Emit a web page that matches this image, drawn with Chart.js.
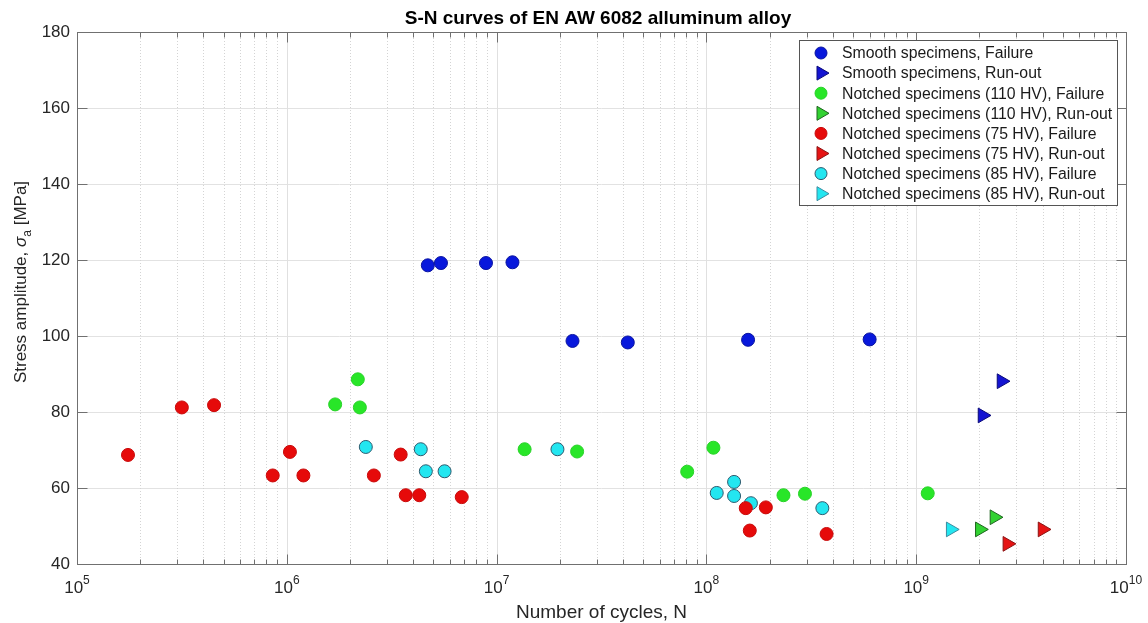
<!DOCTYPE html>
<html>
<head>
<meta charset="utf-8">
<script src="https://cdn.jsdelivr.net/npm/chart.js@4.4.1/dist/chart.umd.min.js"></script>
<style>
  html, body { margin: 0; padding: 0; background: #fff; }
  #wrap { width: 1148px; height: 623px; position: relative; }
</style>
</head>
<body>
<div id="wrap"><canvas id="snChart"></canvas></div>
<script>
// ---- data ----
const chartTitle = 'S-N curves of EN AW 6082 alluminum alloy';
const xAxisTitle = 'Number of cycles, N';
const yTickValues = [40, 60, 80, 100, 120, 140, 160, 180];
const xDecades = [5, 6, 7, 8, 9, 10];

const seriesLabels = [
  'Smooth specimens, Failure',
  'Smooth specimens, Run-out',
  'Notched specimens (110 HV), Failure',
  'Notched specimens (110 HV), Run-out',
  'Notched specimens (75 HV), Failure',
  'Notched specimens (75 HV), Run-out',
  'Notched specimens (85 HV), Failure',
  'Notched specimens (85 HV), Run-out'
];

// smooth specimens
const smoothFailN = [4.7e6, 5.43e6, 8.9e6, 1.19e7, 2.30e7, 4.22e7, 1.58e8, 6.0e8];
const smoothFailS = [118.6, 119.2, 119.2, 119.4, 98.7, 98.3, 99.0, 99.1];
const smoothRunN = [2.07e9, 2.55e9];
const smoothRunS = [79.1, 88.1];

// notched 110 HV
const n110FailN = [1.70e6, 2.18e6, 2.23e6, 1.36e7, 2.42e7, 8.1e7, 1.08e8, 2.33e8, 2.95e8, 1.135e9];
const n110FailS = [82.0, 88.6, 81.2, 70.2, 69.6, 64.3, 70.6, 58.1, 58.5, 58.6];
const n110RunN = [2.01e9, 2.36e9];
const n110RunS = [49.1, 52.3];

// notched 75 HV
const n75FailN = [1.75e5, 3.16e5, 4.5e5, 8.57e5, 1.035e6, 1.2e6, 2.6e6, 3.49e6, 3.69e6, 4.28e6, 6.82e6, 1.54e8, 1.61e8, 1.92e8, 3.74e8];
const n75FailS = [68.7, 81.2, 81.8, 63.3, 69.5, 63.3, 63.3, 68.8, 58.1, 58.1, 57.6, 54.7, 48.8, 54.9, 47.9];
const n75RunN = [2.72e9, 4.0e9];
const n75RunS = [45.3, 49.1];

// notched 85 HV
const n85FailN = [2.38e6, 4.35e6, 4.6e6, 5.65e6, 1.95e7, 1.12e8, 1.355e8, 1.355e8, 1.63e8, 3.57e8];
const n85FailS = [70.8, 70.2, 64.4, 64.4, 70.2, 58.7, 61.6, 57.9, 56.0, 54.7];
const n85RunN = [1.46e9];
const n85RunS = [49.1];

const FONT = "'Liberation Sans', Arial, Helvetica, sans-serif";
const TEXT = '#262626';

const pts = (xs, ys) => xs.map((v, i) => ({ x: v, y: ys[i] }));

// circle = failure, right triangle = run-out
function failSet(label, data, fill, edge) {
  return { label, data, pointStyle: 'circle', pointRadius: 6.5, pointHoverRadius: 6.5,
    backgroundColor: fill, borderColor: edge, pointBorderWidth: 1, showLine: false };
}
function runSet(label, data, fill, edge) {
  return { label, data, pointStyle: 'triangle', rotation: 90, pointRadius: 8.5, pointHoverRadius: 8.5,
    backgroundColor: fill, borderColor: edge, pointBorderWidth: 1, showLine: false };
}

const datasets = [
  failSet(seriesLabels[0], pts(smoothFailN, smoothFailS), '#0818dc', '#0a14a0'),
  runSet(seriesLabels[1], pts(smoothRunN, smoothRunS), '#1414d2', '#0a0a78'),
  failSet(seriesLabels[2], pts(n110FailN, n110FailS), '#28e628', '#28d228'),
  runSet(seriesLabels[3], pts(n110RunN, n110RunS), '#32d232', '#1e641e'),
  failSet(seriesLabels[4], pts(n75FailN, n75FailS), '#e60a0a', '#c80a0a'),
  runSet(seriesLabels[5], pts(n75RunN, n75RunS), '#e61414', '#8c1414'),
  failSet(seriesLabels[6], pts(n85FailN, n85FailS), '#23e6f0', '#2d5a6e'),
  runSet(seriesLabels[7], pts(n85RunN, n85RunS), '#23e6f0', '#3c8ca0')
];

function hline(ctx, x1, y1, x2, y2) {
  ctx.beginPath(); ctx.moveTo(x1, y1); ctx.lineTo(x2, y2); ctx.stroke();
}

// MATLAB-like axes: dotted minor grid, inward ticks, box, superscript tick labels, legend
const matlabAxes = {
  id: 'matlabAxes',
  beforeDatasetsDraw(chart) {
    const { ctx, chartArea: a, scales: { x } } = chart;
    ctx.save();
    ctx.lineWidth = 1;
    ctx.setLineDash([1, 2]);
    ctx.strokeStyle = '#d4d4d4';
    for (let d = 5; d < 10; d++) {
      for (let m = 2; m < 10; m++) {
        const px = Math.round(x.getPixelForValue(m * Math.pow(10, d))) + 0.5;
        hline(ctx, px, a.top, px, a.bottom);
      }
    }
    ctx.setLineDash([]);
    ctx.strokeStyle = '#e0e0e0';
    xDecades.slice(1, -1).forEach(d => {
      const px = Math.round(x.getPixelForValue(Math.pow(10, d))) + 0.5;
      hline(ctx, px, a.top, px, a.bottom);
    });
    ctx.restore();
  },
  afterDatasetsDraw(chart) {
    const { ctx, chartArea: a, scales: { x, y } } = chart;
    ctx.save();
    ctx.lineWidth = 1;
    ctx.strokeStyle = '#707070';
    const L = Math.round(a.left) + 0.5, R = Math.round(a.right) + 0.5;
    const T = Math.round(a.top) + 0.5, B = Math.round(a.bottom) + 0.5;
    ctx.strokeRect(L, T, R - L, B - T);

    // x ticks (inward, top and bottom)
    for (let d = 5; d <= 10; d++) {
      for (let m = 1; m < 10; m++) {
        if (d === 10 && m > 1) break;
        const px = Math.round(x.getPixelForValue(m * Math.pow(10, d))) + 0.5;
        const len = m === 1 ? 10 : 5;
        hline(ctx, px, B, px, B - len);
        hline(ctx, px, T, px, T + len);
      }
    }
    // y ticks
    yTickValues.forEach(v => {
      const py = Math.round(y.getPixelForValue(v)) + 0.5;
      hline(ctx, L, py, L + 10, py);
      hline(ctx, R, py, R - 10, py);
    });

    // x tick labels 10^n
    ctx.fillStyle = TEXT;
    ctx.textBaseline = 'alphabetic';
    ctx.textAlign = 'left';
    xDecades.forEach(d => {
      const px = x.getPixelForValue(Math.pow(10, d));
      ctx.font = '17px ' + FONT;
      const wBase = ctx.measureText('10').width;
      ctx.font = '12px ' + FONT;
      const wExp = ctx.measureText(String(d)).width;
      const x0 = px - (wBase + wExp) / 2;
      ctx.font = '17px ' + FONT;
      ctx.fillText('10', x0, 593);
      ctx.font = '12px ' + FONT;
      ctx.fillText(String(d), x0 + wBase, 584);
    });

    // x axis title
    ctx.font = '19px ' + FONT;
    ctx.textAlign = 'center';
    ctx.fillText(xAxisTitle, (a.left + a.right) / 2, 618);

    // title
    ctx.font = 'bold 19px ' + FONT;
    ctx.fillStyle = '#000';
    ctx.fillText(chartTitle, 598, 24);

    // y axis title with subscript
    ctx.save();
    ctx.translate(26, 282);
    ctx.rotate(-Math.PI / 2);
    ctx.fillStyle = TEXT;
    const p1 = 'Stress amplitude, ';
    const p2 = '\u03c3';
    const p3 = 'a';
    const p4 = ' [MPa]';
    ctx.font = '17px ' + FONT;
    const w1 = ctx.measureText(p1).width;
    ctx.font = 'italic 17px ' + FONT;
    const w2 = ctx.measureText(p2).width;
    ctx.font = '12px ' + FONT;
    const w3 = ctx.measureText(p3).width;
    ctx.font = '17px ' + FONT;
    const w4 = ctx.measureText(p4).width;
    let cx = -(w1 + w2 + w3 + w4) / 2;
    ctx.textAlign = 'left';
    ctx.font = '17px ' + FONT; ctx.fillText(p1, cx, 0); cx += w1;
    ctx.font = 'italic 17px ' + FONT; ctx.fillText(p2, cx, 0); cx += w2;
    ctx.font = '12px ' + FONT; ctx.fillText(p3, cx, 5); cx += w3;
    ctx.font = '17px ' + FONT; ctx.fillText(p4, cx, 0);
    ctx.restore();
    ctx.restore();
  },
  afterDraw(chart) {
    const { ctx } = chart;
    const bx = 799.5, by = 40.5, bw = 318, bh = 165;
    ctx.save();
    ctx.fillStyle = '#fff';
    ctx.fillRect(bx, by, bw, bh);
    ctx.strokeStyle = '#555';
    ctx.lineWidth = 1;
    ctx.strokeRect(bx, by, bw, bh);
    ctx.font = '15.8px ' + FONT;
    ctx.textBaseline = 'middle';
    ctx.textAlign = 'left';
    chart.data.datasets.forEach((ds, i) => {
      const cy = 53 + i * 20.1;
      const mx = 821;
      ctx.fillStyle = ds.backgroundColor;
      ctx.strokeStyle = ds.borderColor;
      ctx.beginPath();
      if (ds.pointStyle === 'circle') {
        ctx.arc(mx, cy, 6, 0, Math.PI * 2);
      } else {
        ctx.moveTo(mx + 8, cy);
        ctx.lineTo(mx - 4, cy - 7);
        ctx.lineTo(mx - 4, cy + 7);
        ctx.closePath();
      }
      ctx.fill();
      ctx.stroke();
      ctx.fillStyle = '#1a1a1a';
      ctx.fillText(ds.label, 842, cy + 1);
    });
    ctx.restore();
  }
};

new Chart(document.getElementById('snChart'), {
  type: 'scatter',
  data: { datasets },
  options: {
    responsive: true,
    maintainAspectRatio: false,
    animation: false,
    layout: { padding: { top: 32, right: 22, left: 0, bottom: 0 } },
    plugins: {
      legend: { display: false },
      title: { display: false },
      tooltip: { enabled: false }
    },
    scales: {
      x: {
        type: 'logarithmic',
        min: 1e5,
        max: 1e10,
        grid: { display: false },
        border: { display: false },
        ticks: { display: false },
        afterFit(scale) { scale.height = 59; }
      },
      y: {
        type: 'linear',
        min: 40,
        max: 180,
        grid: { color: '#e2e2e2', drawTicks: false },
        border: { display: false },
        ticks: {
          stepSize: 20,
          padding: 7,
          color: TEXT,
          font: { family: FONT, size: 17 }
        },
        afterFit(scale) { scale.width = 77; }
      }
    }
  },
  plugins: [matlabAxes]
});
</script>
</body>
</html>
